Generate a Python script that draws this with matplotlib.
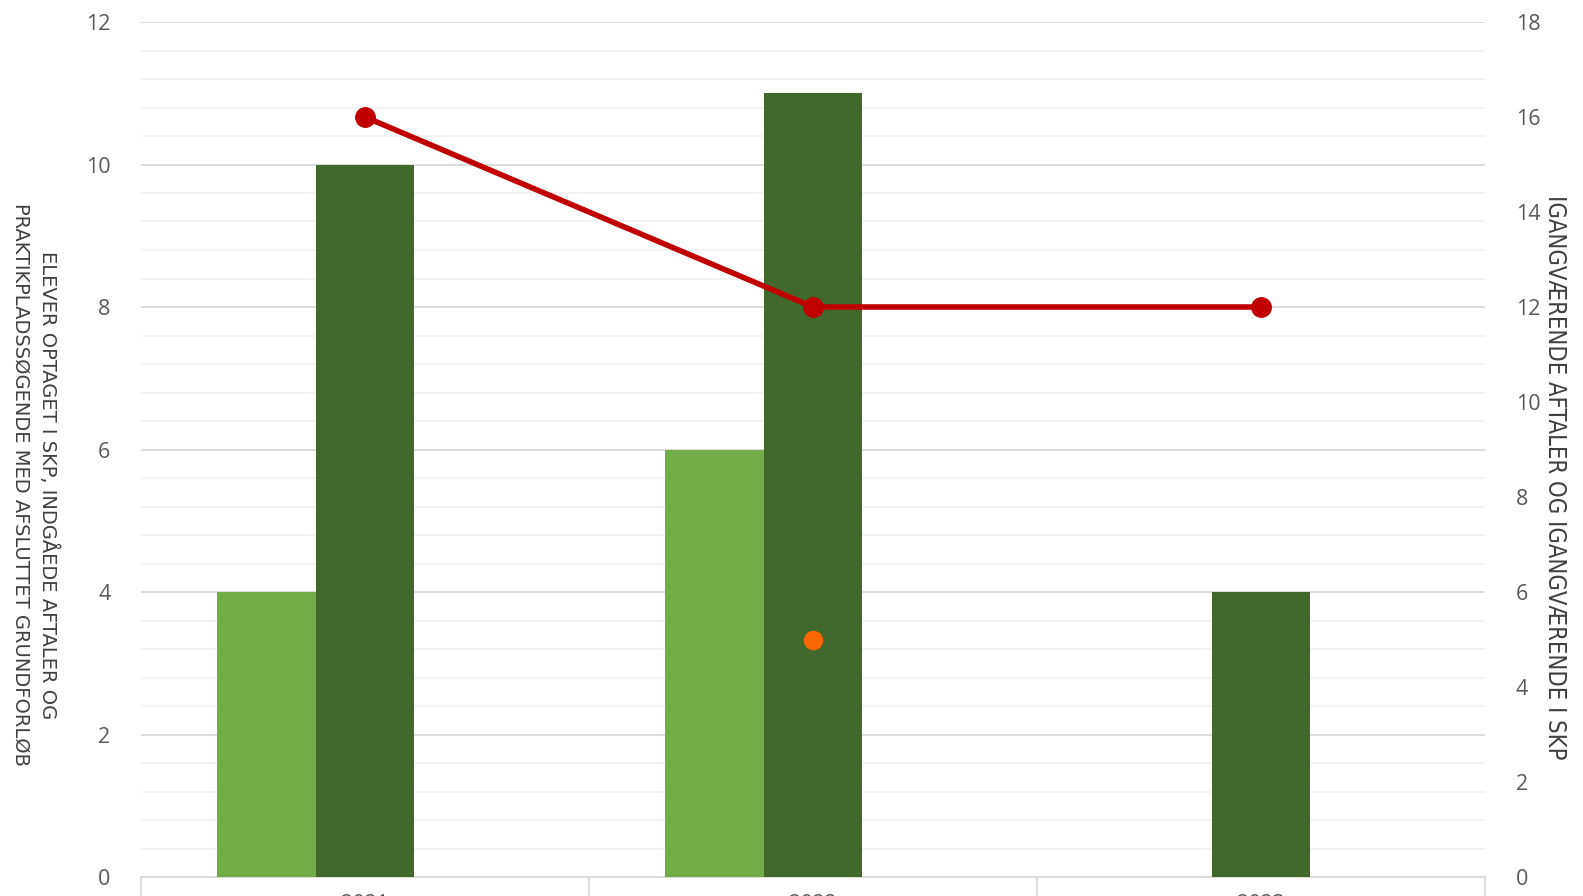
import numpy as np
import matplotlib.pyplot as plt
from matplotlib.ticker import MultipleLocator

# data
categories = ['2021', '2022', '2023']
optaget = [4, 6, 0]          # light green bars, left axis
aftaler = [10, 11, 4]        # dark green bars, left axis
igangvaerende = [16, 12, 12] # red line, right axis
orange_x = [1]
orange_y = [5]               # single orange dot, right axis

plt.rcParams['font.family'] = ['Open Sans', 'DejaVu Sans']

fig = plt.figure(figsize=(15.83, 8.96), dpi=100)
ax = fig.add_axes([141 / 1583, 19 / 896, 1344 / 1583, 855 / 896])
ax2 = ax.twinx()

x = np.arange(len(categories))
w = 0.22
ax.bar(x - w, optaget, width=w, color='#70AD47', zorder=3)
ax.bar(x, aftaler, width=w, color='#43682B', zorder=3)

ax2.plot(x, igangvaerende, color='#C00000', lw=4, marker='o', ms=14, zorder=4)
ax2.plot(orange_x, orange_y, 'o', color='#FF6600', ms=13, zorder=4)

ax.set_xlim(-0.5, 2.5)
ax.set_ylim(0, 12)
ax2.set_ylim(0, 18)
ax.yaxis.set_major_locator(MultipleLocator(2))
ax.yaxis.set_minor_locator(MultipleLocator(0.4))
ax2.yaxis.set_major_locator(MultipleLocator(2))
ax.grid(axis='y', which='major', color='#D9D9D9', lw=1.3, zorder=0)
ax.grid(axis='y', which='minor', color='#F2F2F2', lw=1.3, zorder=0)

for a in (ax, ax2):
    for s in a.spines.values():
        s.set_visible(False)
ax.spines['bottom'].set_visible(True)
ax.spines['bottom'].set_color('#D9D9D9')
ax.spines['bottom'].set_linewidth(1.3)

ax.set_xticks([-0.5, 0.5, 1.5, 2.5])
ax.set_xticklabels([])
ax.tick_params(axis='x', which='major', length=20, color='#D9D9D9', width=1.3)
ax.set_xticks(x, minor=True)
ax.set_xticklabels(categories, minor=True)
ax.tick_params(axis='x', which='minor', length=0, pad=12, labelsize=15, labelcolor='#595959')

ax.tick_params(axis='y', which='both', length=0, labelsize=15.5, labelcolor='#595959', pad=22)
ax2.tick_params(axis='y', length=0, labelsize=15.5, labelcolor='#595959', pad=22)

ax.set_ylabel('ELEVER OPTAGET I SKP, INDGÅEDE AFTALER OG\nPRAKTIKPLADSSØGENDE MED AFSLUTTET GRUNDFORLØB',
              rotation=270, labelpad=0, linespacing=1.5, va='center',
              family=['DejaVu Sans'], size=14, color='#404040')
ax.yaxis.set_label_coords(-0.0792, 0.4585)
ax2.set_ylabel('IGANGVÆRENDE AFTALER OG IGANGVÆRENDE I SKP',
               rotation=270, va='center', family=['DejaVu Sans'], stretch='condensed',
               size=17, color='#404040')
ax2.yaxis.set_label_coords(1.052, 0.468)

fig.savefig('out.png', dpi=100)
